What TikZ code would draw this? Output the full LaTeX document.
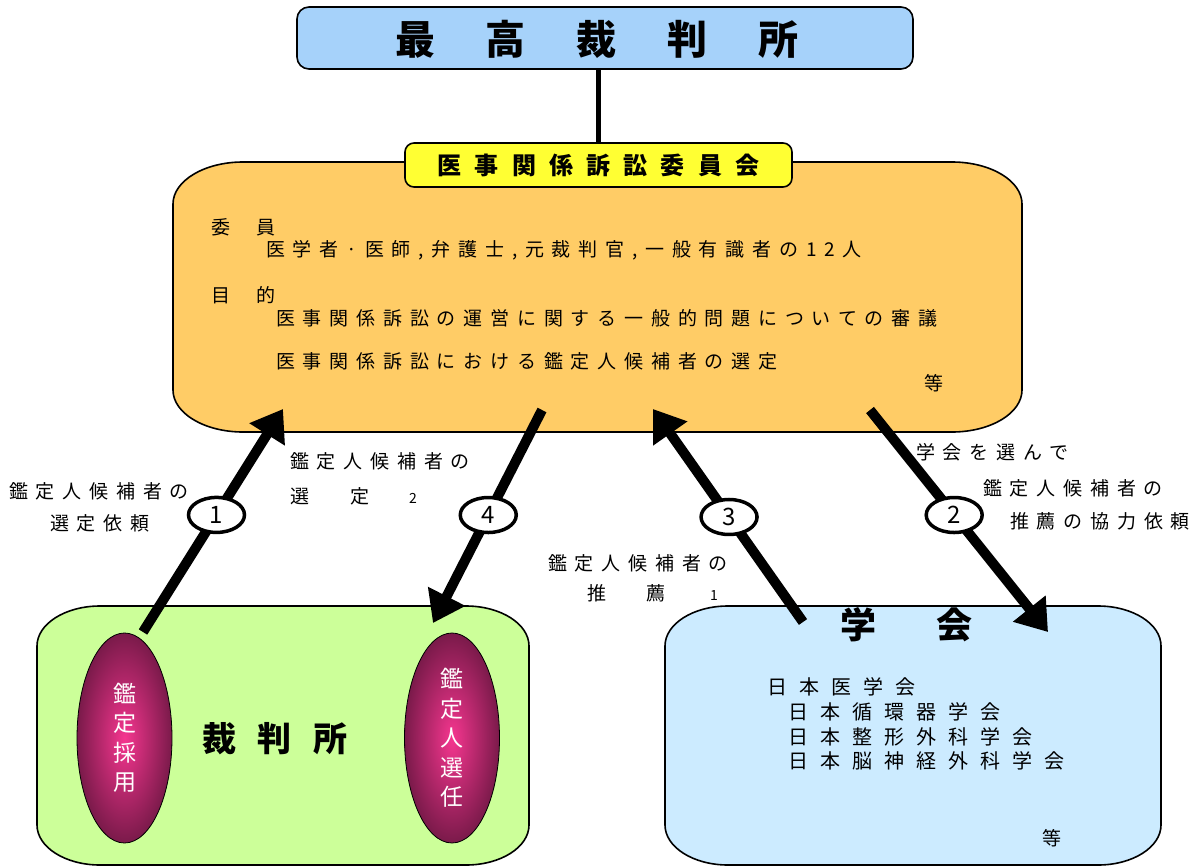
\documentclass[tikz,border=0pt]{standalone}
\usepackage{fontspec}
\setmainfont{Noto Sans CJK JP}
\usetikzlibrary{arrows.meta,shapes.geometric}
\definecolor{mclSky}{HTML}{A6D2FA}
\definecolor{mclYellow}{HTML}{FFFF33}
\definecolor{mclOrange}{HTML}{FFCC66}
\definecolor{mclGreen}{HTML}{CCFF99}
\definecolor{mclIce}{HTML}{CCEBFF}
\definecolor{mclPink}{HTML}{F5368F}
\definecolor{mclPlum}{HTML}{7A1A4A}
% panel with elliptic corners: style, x1, y1, x2, y2, rx, ry
\newcommand\mclpanel[7]{%
  \draw[#1] (#2,#3+#7) arc[start angle=180,end angle=90,x radius=#6pt,y radius=#7pt]
    -- (#4-#6,#3) arc[start angle=90,end angle=0,x radius=#6pt,y radius=#7pt]
    -- (#4,#5-#7) arc[start angle=0,end angle=-90,x radius=#6pt,y radius=#7pt]
    -- (#2+#6,#5) arc[start angle=270,end angle=180,x radius=#6pt,y radius=#7pt]
    -- cycle;}
\tikzset{
  mcl frame/.style={draw=black, line width=1.6pt},
  mcl stem/.style={draw=black, line width=4.5pt},
  mcl arrow/.style={draw=black, line width=10pt, -{Triangle[length=30pt,width=40pt]}},
  mcl badge/.style={ellipse, draw=black, line width=3.5pt, fill=white, minimum width=56pt, minimum height=35pt, inner sep=0pt, font=\fontsize{24}{24}\selectfont},
  mcl pod/.style={ellipse, draw=black, line width=0.8pt, shading=radial, inner color=mclPink, outer color=mclPlum, minimum width=95pt, minimum height=210pt, inner sep=0pt, text=white, align=center, font=\fontsize{23}{29.5}\selectfont},
  mcl text/.style={anchor=west, inner sep=0pt, font=\fontsize{19}{22}\selectfont\addfontfeatures{LetterSpace=41}},
  mcl list/.style={anchor=west, inner sep=0pt, font=\fontsize{20}{22}\selectfont\addfontfeatures{LetterSpace=60}},
  mcl title/.style={anchor=west, inner sep=0pt, font=\fontsize{40}{44}\selectfont\bfseries\addfontfeatures{LetterSpace=127}},
  mcl head/.style={anchor=west, inner sep=0pt, font=\fontsize{34}{38}\selectfont\bfseries\addfontfeatures{LetterSpace=63}},
  mcl tag/.style={mcl frame, fill=mclYellow, rounded corners=9pt, minimum width=387pt, minimum height=44pt, inner sep=0pt, font=\fontsize{24}{26}\selectfont\bfseries\addfontfeatures{LetterSpace=55}},
}
\begin{document}
\begin{tikzpicture}[x=1pt,y=-1pt]
  \useasboundingbox (0,0) rectangle (1201,867);

  % committee panel and the supreme court on top
  \mclpanel{mcl frame, fill=mclOrange}{173}{162}{1022}{432}{70}{42}
  \node[mcl frame, fill=mclSky, rounded corners=12pt, minimum width=616pt, minimum height=62pt] (supreme) at (605,38) {};
  \node[mcl tag] (tag) at (598.5,165) {医事関係訴訟委員会};
  \draw[mcl stem] (supreme.south -| tag.north) -- (tag.north);
  \node[mcl title] (supremetxt) at (395,39) {最高裁判所};

  \node[mcl text] (memhead) at (211,227) {委\hspace{26pt}員};
  \node[mcl text] (memline) at (266,250) {医学者·医師,弁護士,元裁判官,一般有識者の12人};
  \node[mcl text] (aimhead) at (211,295) {目\hspace{26pt}的};
  \node[mcl text] (aimline1) at (276,318) {医事関係訴訟の運営に関する一般的問題についての審議};
  \node[mcl text] (aimline2) at (276,361) {医事関係訴訟における鑑定人候補者の選定};
  \node[mcl text] (aimetc) at (924,383) {等};

  % court and academic societies
  \mclpanel{mcl frame, fill=mclGreen}{37}{606}{529}{865}{63}{40}
  \mclpanel{mcl frame, fill=mclIce}{665}{606}{1161}{865}{63}{40}
  \node[mcl pod] (adopt) at (124.5,738) {鑑\\定\\採\\用};
  \node[mcl pod] (appoint) at (452,738) {鑑\\定\\人\\選\\任};
  \node[mcl head] (courttxt) at (202,739) {裁判所};

  \node[mcl head, font=\fontsize{36}{40}\selectfont\bfseries\addfontfeatures{LetterSpace=167}] (acadtxt) at (840,625) {学会};
  \node[mcl list] (soc1) at (767,687) {日本医学会};
  \node[mcl list] (soc2) at (788,712) {日本循環器学会};
  \node[mcl list] (soc3) at (788,736.5) {日本整形外科学会};
  \node[mcl list] (soc4) at (788,761) {日本脳神経外科学会};
  \node[mcl text] (socetc) at (1042,838) {等};

  % numbered flows
  \coordinate (a1s) at (143,632);  \coordinate (a1e) at (283,409);
  \coordinate (a2s) at (870,410);  \coordinate (a2e) at (1048,632);
  \coordinate (a3s) at (803,622);  \coordinate (a3e) at (653,409);
  \coordinate (a4s) at (542,410);  \coordinate (a4e) at (433,623);
  \draw[mcl arrow] (a1s) -- node[mcl badge, pos=0.525] (n1) {1} (a1e);
  \draw[mcl arrow] (a2s) -- node[mcl badge, pos=0.473] (n2) {2} (a2e);
  \draw[mcl arrow] (a3s) -- node[mcl badge, pos=0.493] (n3) {3} (a3e);
  \draw[mcl arrow] (a4s) -- node[mcl badge, pos=0.493] (n4) {4} (a4e);

  \node[mcl text] (req1a) at (9,491.5) {鑑定人候補者の};
  \node[mcl text] (req1b) at (50,523.5) {選定依頼};
  \node[mcl text] (sel4a) at (290,461.5) {鑑定人候補者の};
  \node[mcl text] (sel4b) at (290,496) {選\hspace{41pt}定\hspace{40pt}{\fontsize{14}{14}\selectfont 2}};
  \node[mcl text] (ask2a) at (916,452.5) {学会を選んで};
  \node[mcl text] (ask2b) at (983,488.5) {鑑定人候補者の};
  \node[mcl text] (ask2c) at (1010,521) {推薦の協力依頼};
  \node[mcl text] (rec3a) at (548,563.5) {鑑定人候補者の};
  \node[mcl text] (rec3b) at (587,593.5) {推\hspace{40pt}薦\hspace{45pt}{\fontsize{14}{14}\selectfont 1}};
\end{tikzpicture}
\end{document}
